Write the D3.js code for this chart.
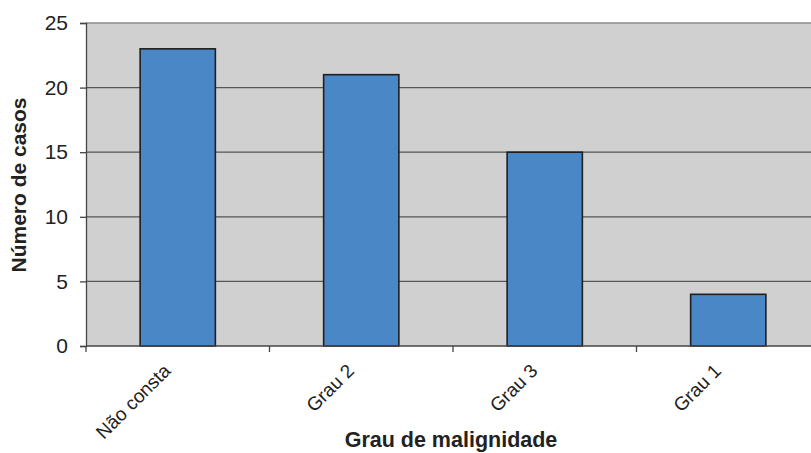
<!DOCTYPE html>
<html>
<head>
<meta charset="utf-8">
<script src="https://cdn.jsdelivr.net/npm/d3@7"></script>
<style>
  html, body { margin: 0; padding: 0; background: #fff; }
  svg { display: block; font-family: "Liberation Sans", Arial, sans-serif; }
</style>
</head>
<body>
<svg id="chart" width="811" height="453"></svg>
<script>
// Casos por grau de malignidade
const categories = ["Não consta", "Grau 2", "Grau 3", "Grau 1"];
const casos = [23, 21, 15, 4];
const yTicks = [0, 5, 10, 15, 20, 25];

const svg = d3.select("#chart");
const plot = { left: 86, right: 820, top: 23, bottom: 346 };

const x = d3.scaleBand()
  .domain(categories)
  .range([plot.left, plot.right])
  .paddingInner(0.59)
  .paddingOuter(0.295);

const xStep = d3.scaleBand().domain(categories).range([plot.left, plot.right]);

const y = d3.scaleLinear().domain([0, 25]).range([plot.bottom, plot.top]);

// plot background
svg.append("rect")
  .attr("x", plot.left).attr("y", plot.top)
  .attr("width", plot.right - plot.left).attr("height", plot.bottom - plot.top)
  .attr("fill", "#d0d0d0");

// horizontal gridlines
svg.append("g").selectAll("line")
  .data(yTicks.filter(d => d > 0))
  .join("line")
  .attr("x1", plot.left).attr("x2", plot.right)
  .attr("y1", d => y(d)).attr("y2", d => y(d))
  .attr("stroke", d => d === 25 ? "#8a8a8a" : "#555")
  .attr("stroke-width", 1.3);

// bars
svg.append("g").selectAll("rect")
  .data(categories.map((c, i) => ({ c, v: casos[i] })))
  .join("rect")
  .attr("x", d => x(d.c))
  .attr("y", d => y(d.v))
  .attr("width", x.bandwidth())
  .attr("height", d => y(0) - y(d.v))
  .attr("fill", "#4a87c6")
  .attr("stroke", "#1f1f1f")
  .attr("stroke-width", 1.6);

// y axis
const yAxis = d3.axisLeft(y).tickValues(yTicks).tickSize(6).tickPadding(12);
const gy = svg.append("g").attr("transform", `translate(${plot.left},0)`).call(yAxis);
gy.select(".domain").attr("stroke", "#444").attr("stroke-width", 1.3);
gy.selectAll(".tick line").attr("stroke", "#444").attr("stroke-width", 1.3);
gy.selectAll(".tick text").attr("font-size", 21).attr("fill", "#222")
  .attr("font-family", "Liberation Sans, Arial, sans-serif");

// x axis line with ticks at category boundaries
svg.append("line")
  .attr("x1", plot.left).attr("x2", plot.right)
  .attr("y1", plot.bottom).attr("y2", plot.bottom)
  .attr("stroke", "#444").attr("stroke-width", 1.3);
svg.append("g").selectAll("line")
  .data(categories)
  .join("line")
  .attr("x1", d => xStep(d)).attr("x2", d => xStep(d))
  .attr("y1", plot.bottom).attr("y2", plot.bottom + 6)
  .attr("stroke", "#444").attr("stroke-width", 1.3);

// rotated category labels
svg.append("g").selectAll("text")
  .data(categories)
  .join("text")
  .attr("transform", d => `translate(${x(d) + x.bandwidth() / 2 - 6},${plot.bottom + 26}) rotate(-45)`)
  .attr("text-anchor", "end")
  .attr("font-size", 19)
  .attr("fill", "#222")
  .text(d => d);

// axis titles
svg.append("text")
  .attr("x", 451).attr("y", 447)
  .attr("text-anchor", "middle")
  .attr("font-size", 21.5).attr("font-weight", "bold").attr("fill", "#222")
  .text("Grau de malignidade");

svg.append("text")
  .attr("transform", `translate(26,185) rotate(-90)`)
  .attr("text-anchor", "middle")
  .attr("font-size", 21).attr("font-weight", "bold").attr("fill", "#222")
  .text("Número de casos");
</script>
</body>
</html>
